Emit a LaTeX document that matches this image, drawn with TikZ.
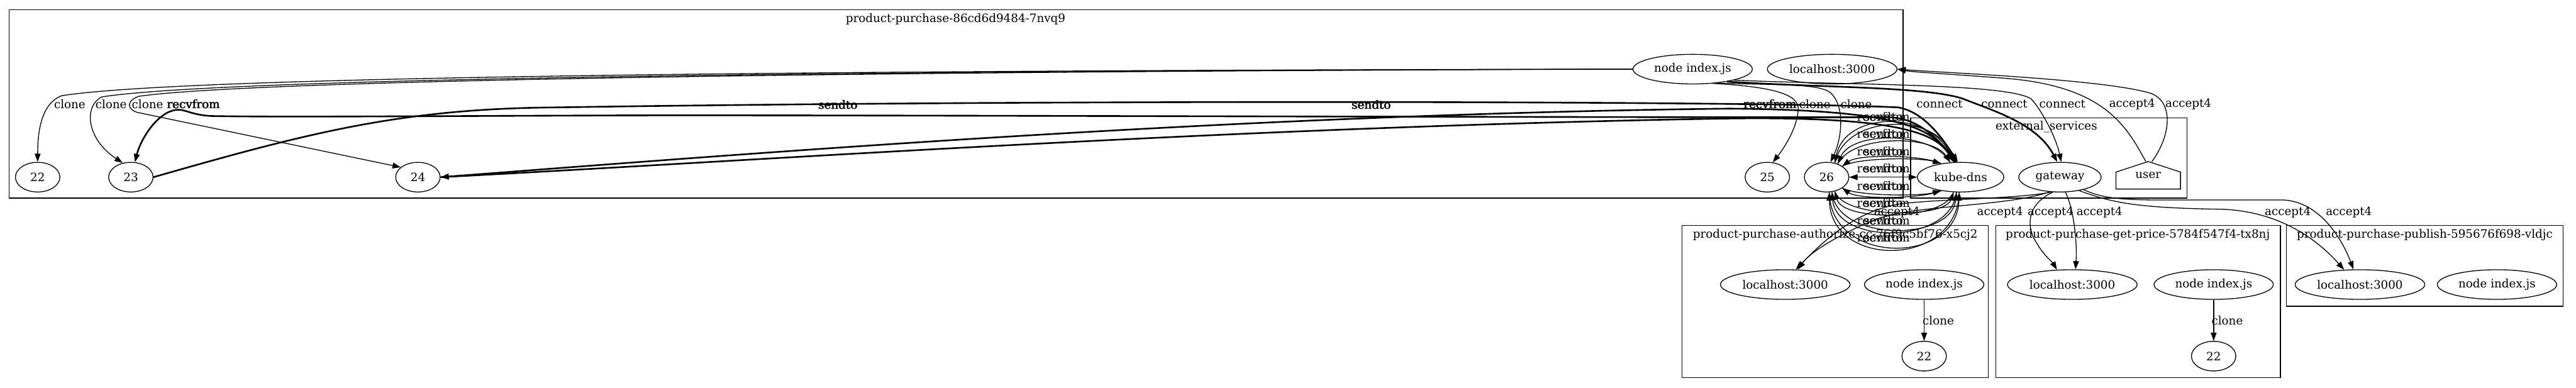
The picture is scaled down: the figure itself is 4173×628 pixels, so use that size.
\documentclass[tikz,border=0pt]{standalone}
\usepackage{fontspec}
\setmainfont{DejaVu Serif}
\usetikzlibrary{arrows.meta, positioning, calc, shapes.geometric}

\begin{document}
\begin{tikzpicture}[
    x=0.75pt, y=-0.75pt,
    every node/.style={font=\fontsize{14pt}{16pt}\selectfont},
    proc/.style={draw, ellipse, line width=1pt, minimum height=36pt, inner sep=0pt},
    num/.style={proc, minimum width=54pt},
    js/.style={proc, minimum width=145pt},
    port/.style={proc, minimum width=157.5pt},
    pod/.style={draw, line width=1pt},
    arr/.style={-{Triangle[length=10pt, width=7pt]}, line width=1pt},
    bold/.style={arr, line width=2pt},
    lbl/.style={inner sep=0pt}
]
\fill[white] (0,0) rectangle (4173,628);
\useasboundingbox (0,0) rectangle (4173,628);

% pods
\draw[pod] (15,16) rectangle (3083,321);
\node[lbl] (mainlbl) at (1548,31) {product-purchase-86cd6d9484-7nvq9};
\draw[pod] (3095,191) rectangle (3543,321);
\node[lbl] (extlbl) at (3315,205) {external\_services};
\draw[pod] (2725,365) rectangle (3221,612);
\node[lbl] (authlbl) at (2973,381) {product-purchase-authorize-cc-76f9c5bf76-x5cj2};
\draw[pod] (3233,365) rectangle (3694,612);
\node[lbl] (pricelbl) at (3463,381) {product-purchase-get-price-5784f547f4-tx8nj};
\draw[pod] (3704,365) rectangle (4152,496);
\node[lbl] (publbl) at (3928,381) {product-purchase-publish-595676f698-vldjc};

% processes
\node[num] (m22) at (61,287) {22};
\node[num] (m23) at (212,287) {23};
\node[num] (m24) at (677,287) {24};
\node[num] (m25) at (2863,287) {25};
\node[num] (m26) at (2959,287) {26};
\node[js] (mjs) at (2742,112) {node index.js};
\node[port] (mport) at (2968,112) {localhost:3000};

\node[proc, minimum width=105pt] (kdns) at (3176,287) {kube-dns};
\node[proc, minimum width=100pt] (gw) at (3337,287) {gateway};
\node[minimum width=78pt, minimum height=33pt, inner sep=0pt] (user) at (3480,284) {user};
\draw[pod] (user.south west) -- (user.south east) -- ($(user.north east)+(0,17)$)
    -- (user.north) -- ($(user.north west)+(0,17)$) -- cycle;

\node[port] (aport) at (2892,461) {localhost:3000};
\node[js] (ajs) at (3117,461) {node index.js};
\node[num] (a22) at (3117,577) {22};
\node[port] (gport) at (3357,461) {localhost:3000};
\node[js] (gjs) at (3586,461) {node index.js};
\node[num] (g22) at (3586,577) {22};
\node[port] (pport) at (3823,461) {localhost:3000};
\node[js] (pjs) at (4045,461) {node index.js};

% clone
\draw[arr] (mjs.west) .. controls (1300,114) and (300,124) .. (100,155)
    .. controls (66,168) and (61,215) .. (m22.north);
\draw[arr] (mjs.west) .. controls (1300,115) and (350,128) .. (165,157)
    .. controls (135,172) and (140,225) .. (m23.120);
\draw[arr] (mjs.west) .. controls (1300,116) and (400,131) .. (225,156)
    .. controls (205,163) and (205,176) .. (222,182) -- (m24.150);
\draw[arr] (mjs.-35) .. controls (2860,140) and (2912,150) .. (2913,175)
    .. controls (2913,205) and (2890,240) .. (m25.70);
\draw[arr] (mjs.-30) .. controls (2880,138) and (2945,135) .. (2965,150)
    .. controls (2988,170) and (2985,220) .. (m26.75);
\node[lbl] at (113,169) {clone};
\node[lbl] at (180,169) {clone};
\node[lbl] at (239,169) {clone};
\node[lbl] at (2940,169) {clone};
\node[lbl] at (3007,169) {clone};

% dns traffic
\draw[bold] (m23.east) .. controls (500,215) and (650,176) .. (900,174)
    .. controls (1800,160) and (2900,165) .. (3075,174)
    .. controls (3120,182) and (3150,230) .. (kdns.100);
\draw[bold] (kdns.105) .. controls (3140,225) and (3110,192) .. (3060,190)
    .. controls (2300,190) and (1300,186) .. (1000,187)
    .. controls (700,188) and (450,190) .. (345,188)
    .. controls (310,187) and (300,176) .. (285,178)
    .. controls (255,182) and (228,225) .. (m23.75);
\draw[bold] (kdns.110) .. controls (3135,215) and (3110,178) .. (2800,176)
    .. controls (2000,185) and (1200,250) .. (m24.east);
\draw[bold] (m24.east) .. controls (1200,262) and (2000,205) .. (2800,192)
    .. controls (3090,188) and (3140,220) .. (kdns.115);
\foreach \dx in {0,0.8} {
    \node[lbl] at (313+\dx,169) {recvfrom};
    \node[lbl] at (1357+\dx,170) {sendto};
    \node[lbl] at (2221+\dx,170) {sendto};
    \node[lbl] at (2867+\dx,169) {recvfrom};
}

\foreach \sa/\ea/\ca/\cb/\cy/\cz/\ly in {
    60/115/2990/3140/183/177/189,
    50/125/3000/3130/218/212/217,
    35/145/3010/3110/255/250/245,
    0/180/3030/3080/287/287/273,
    -35/-145/3010/3110/318/323/301,
    -60/-115/2985/3150/354/359/329,
    -70/-105/2975/3160/392/397/357,
    -80/-95/2965/3170/430/435/385}
{
    \draw[arr] (m26.\sa) .. controls (\ca,\cy) and (\cb,\cy) .. (kdns.\ea);
    \draw[arr] (kdns.\ea) .. controls (\cb,\cz) and (\ca,\cz) .. (m26.\sa);
    \node[lbl] at (3051,\ly) {sendto};
    \node[lbl] at (3051,\ly) {recvfrom};
}

% connect
\draw[bold] (mjs.-20) .. controls (2950,142) and (3120,140) .. (3180,160)
    .. controls (3230,180) and (3300,200) .. (gw.100);
\draw[arr] (mjs.-15) .. controls (3000,138) and (3250,135) .. (3290,160)
    .. controls (3305,175) and (3330,220) .. (gw.85);
\node[lbl] at (3142,169) {connect};
\node[lbl] at (3247,169) {connect};
\node[lbl] at (3341,169) {connect};

% accept4
\draw[arr] (user.100) .. controls (3445,205) and (3410,140) .. (3250,127)
    .. controls (3160,120) and (3100,117) .. (mport.east);
\draw[arr] (user.75) .. controls (3520,215) and (3520,160) .. (3480,150)
    .. controls (3400,128) and (3150,118) .. (mport.east);
\node[lbl] at (3454,169) {accept4};
\node[lbl] at (3545,169) {accept4};

\draw[arr] (gw.-125) .. controls (3250,335) and (3100,332) .. (3040,355)
    .. controls (2990,375) and (2935,405) .. (aport.50);
\draw[arr] (gw.-120) .. controls (3270,322) and (3150,322) .. (3080,330)
    .. controls (3000,342) and (2945,400) .. (aport.55);
\draw[arr] (gw.-115) .. controls (3285,330) and (3280,365) .. (3300,395)
    .. controls (3312,415) and (3325,425) .. (gport.136);
\draw[arr] (gw.-70) .. controls (3360,340) and (3365,395) .. (gport.78);
\draw[arr] (gw.-35) .. controls (3420,328) and (3460,337) .. (3600,339)
    .. controls (3700,343) and (3760,395) .. (pport.137);
\draw[arr] (gw.-28) .. controls (3400,318) and (3420,324) .. (3500,324) -- (3700,324)
    .. controls (3760,328) and (3795,390) .. (pport.113);
\node[lbl] at (3073,344) {accept4};
\node[lbl] at (3240,344) {accept4};
\node[lbl] at (3322,344) {accept4};
\node[lbl] at (3401,344) {accept4};
\node[lbl] at (3706,344) {accept4};
\node[lbl] at (3805,344) {accept4};

\draw[arr] (ajs.south) -- (a22.north);
\draw[arr] (gjs.south) -- (g22.north);
\node[lbl] at (3140,519) {clone};
\node[lbl] at (3608,519) {clone};
\end{tikzpicture}
\end{document}
